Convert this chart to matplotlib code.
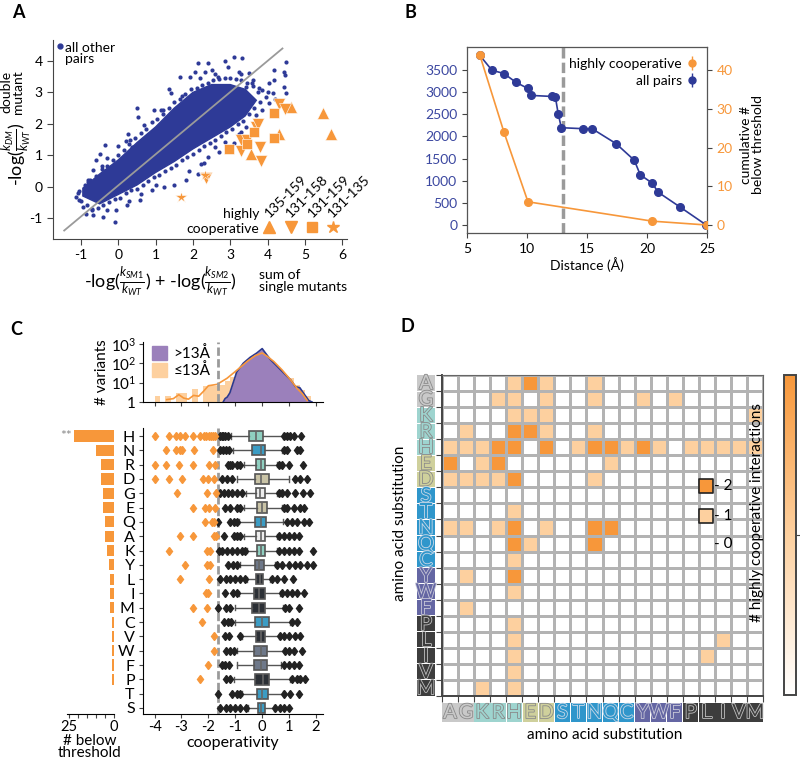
import numpy as np
import matplotlib
matplotlib.use('Agg')
import matplotlib.pyplot as plt
import matplotlib.transforms as mtransforms
import matplotlib.patheffects as pe
from matplotlib.colors import LinearSegmentedColormap
from matplotlib.patches import Rectangle, Patch
from matplotlib.lines import Line2D

plt.rcParams['font.family'] = ['Lato', 'DejaVu Sans']
plt.rcParams['mathtext.fontset'] = 'custom'
plt.rcParams['mathtext.it'] = 'Lato:italic'
plt.rcParams['mathtext.rm'] = 'Lato'
plt.rcParams['axes.unicode_minus'] = False
plt.rcParams['font.size'] = 10

BLUE = '#2e3a97'
ORANGE = '#f7973a'
LIGHT = '#fdd09f'
GRAY = '#9a9a9a'

# ---------------- data: panel A ----------------
# dense core of the "all other pairs" cloud (outline)
core_x = [-0.95, -0.5, 0.0, 0.5, 1.0, 1.5, 2.0, 2.5, 3.0, 3.4, 3.7, 3.4, 3.0, 2.5, 2.0, 1.5, 1.0, 0.5, 0.0, -0.5, -0.95]
core_y = [-0.3, -0.55, -0.25, 0.05, 0.45, 0.8, 1.2, 1.55, 1.9, 2.25, 2.75, 3.1, 3.25, 3.25, 3.0, 2.5, 1.9, 1.4, 0.85, 0.4, -0.05]
# points along the fuzzy rim of the cloud
rim_x = [-1.0, -0.85, -0.7, -0.55, -0.4, -0.25, -0.1, 0.05, 0.2, 0.35, 0.5, 0.65, 0.8, 0.95, 1.1, 1.25, 1.4,
         1.55, 1.7, 1.85, 2.0, 2.15, 2.3, 2.45, 2.6, 2.75, 2.9, 3.05, 3.2, 3.35, 3.5, 3.65, 3.8,
         3.75, 3.6, 3.45, 3.3, 3.15, 3.0, 2.85, 2.7, 2.55, 2.4, 2.25, 2.1, 1.95, 1.8, 1.65, 1.5, 1.35, 1.2,
         1.05, 0.9, 0.75, 0.6, 0.45, 0.3, 0.15, 0.0, -0.15, -0.3, -0.45, -0.6, -0.75, -0.9, -1.05]
rim_y = [-0.45, -0.6, -0.7, -0.68, -0.6, -0.5, -0.4, -0.35, -0.22, -0.12, -0.08, 0.05, 0.18, 0.3, 0.38, 0.5, 0.6,
         0.7, 0.85, 0.95, 1.05, 1.15, 1.3, 1.4, 1.5, 1.62, 1.75, 1.85, 2.0, 2.1, 2.3, 2.5, 2.7,
         3.0, 3.2, 3.3, 3.4, 3.42, 3.45, 3.45, 3.42, 3.4, 3.3, 3.25, 3.15, 3.1, 2.95, 2.8, 2.7, 2.5, 2.3,
         2.15, 2.05, 1.85, 1.7, 1.55, 1.35, 1.15, 1.0, 0.85, 0.65, 0.55, 0.35, 0.2, 0.05, -0.15]
# scattered points further out
edge_x = [2.14, 2.41, 2.86, 3.09, 3.32, 2.95, 2.5, 1.91, 1.66, 1.36, 1.41, 1.14, 0.95, 0.5, 0.52, 0.27, 0.32, 0.36,
          0.0, -0.36, -0.5, -0.59, -0.43, -0.68, -0.82, -1.09, -1.14, -1.05, -0.95, -0.86, -0.68, -0.41, -0.09, -0.05,
          0.23, 0.59, 0.91, 1.23, 1.5, 1.82, 2.14, 2.23, 2.41, 2.59, 2.95, 2.86, 3.23, 3.41, 3.68, 3.86, 3.95, 3.86,
          4.05, 4.18, 4.18, 4.45, 4.48, 4.5, 4.45, 4.5, 4.14, 4.05, 3.77, 3.59, 3.5, 3.23, 3.41, 3.05, 2.68, 2.32, 2.05,
          1.9, 2.3, 2.7, 3.1, 3.3, 1.0, 0.6, 0.3, -0.3, -0.7, -0.8, -0.3, 0.2, 0.7, 1.2, 1.7, 2.2, 2.6, 3.3, 3.6, 4.0, 4.2]
edge_y = [3.93, 3.95, 4.01, 4.12, 4.09, 3.82, 3.71, 3.5, 3.48, 3.1, 2.97, 2.44, 2.44, 2.49, 2.22, 1.69, 1.48, 1.27,
          1.3, 1.32, 1.05, 0.84, 0.65, 0.52, 0.15, -0.22, -0.33, -0.44, -0.65, -0.86, -0.91, -0.97, -1.13, -0.76,
          -0.6, -0.44, -0.12, -0.01, 0.04, 0.2, 0.41, 0.73, 0.95, 1.27, 1.27, 1.43, 1.69, 1.9, 2.28, 2.44, 2.86, 3.07,
          3.29, 3.39, 3.71, 3.66, 3.55, 3.98, 3.18, 2.97, 2.97, 2.65, 3.13, 3.29, 3.61, 3.66, 3.18, 3.18, 3.5, 3.66, 3.66,
          0.5, 0.75, 1.1, 1.4, 1.75, 0.05, -0.25, -0.45, -0.75, -0.75, 0.2, 0.9, 1.45, 1.95, 2.45, 2.9, 3.45, 3.6, 3.6, 3.4, 3.0, 2.8]
diag_x = [-1.45, 4.4]
diag_y = [-1.4, 4.4]
# highly cooperative pairs
p135_159_x = [4.62, 5.50, 5.70, 4.32, 3.57]
p135_159_y = [2.55, 2.36, 1.69, 1.69, 1.05]
p131_158_x = [4.32, 4.47, 3.70, 3.75, 3.30, 3.45, 3.30, 3.80, 3.82, 2.35]
p131_158_y = [2.63, 2.47, 1.90, 2.00, 1.50, 1.50, 1.14, 1.27, 0.82, 0.26]
p131_159_x = [4.18, 4.18, 3.64, 3.45, 2.97]
p131_159_y = [2.33, 1.56, 1.75, 1.35, 1.21]
p131_135_x = [2.32, 1.68]
p131_135_y = [0.36, -0.33]
pair_labels = ['135-159', '131-158', '131-159', '131-135']

# ---------------- data: panel B ----------------
dist_all = [6.06, 7.08, 8.08, 9.1, 10.08, 10.36, 12.1, 12.36, 12.6, 12.86, 14.64, 15.42, 17.42, 18.94, 19.44, 20.44, 20.92, 22.72, 24.94]
n_all = [3830, 3493, 3418, 3216, 3081, 2924, 2901, 2894, 2511, 2196, 2174, 2174, 1837, 1462, 1132, 945, 742, 412, 0]
dist_coop = [6.06, 8.08, 10.08, 20.44, 25.0]
n_coop = [44, 24, 6, 1, 0]
dist_cut = 13

# ---------------- data: panel C ----------------
aa_rows = ['H', 'N', 'R', 'D', 'G', 'E', 'Q', 'A', 'K', 'Y', 'L', 'I', 'M', 'C', 'V', 'W', 'F', 'P', 'T', 'S']
n_below = [22, 10, 7, 7, 6, 6, 5, 5, 4, 3, 2, 2, 2, 1, 1, 1, 1, 1, 0, 0]
q1 = [-0.49, -0.38, -0.22, -0.28, -0.22, -0.20, -0.28, -0.22, -0.20, -0.28, -0.23, -0.32, -0.38, -0.28, -0.23, -0.29, -0.29, -0.26, -0.20, -0.17]
med = [-0.23, -0.05, -0.05, -0.03, -0.07, -0.01, -0.05, -0.05, -0.05, -0.13, -0.10, -0.11, -0.13, -0.01, -0.06, -0.05, -0.05, 0.02, -0.01, -0.05]
q3 = [0.03, 0.11, 0.11, 0.24, 0.09, 0.17, 0.15, 0.11, 0.11, 0.08, 0.02, 0.09, 0.11, 0.24, 0.11, 0.17, 0.17, 0.27, 0.20, 0.09]
whislo = [-1.16, -1.09, -0.69, -0.94, -0.59, -0.69, -0.88, -0.69, -0.57, -0.81, -0.57, -0.88, -1.00, -1.00, -0.75, -0.94, -0.94, -1.04, -0.75, -0.54]
whishi = [0.77, 0.73, 0.55, 0.98, 0.55, 0.73, 0.79, 0.55, 0.55, 0.49, 0.30, 0.67, 0.79, 1.04, 0.61, 0.80, 0.70, 1.04, 0.77, 0.43]
box_group = ['teal', 'blue', 'teal', 'khaki', 'white', 'khaki', 'blue', 'white', 'teal', 'slate',
             'dark', 'dark', 'dark', 'blue', 'dark', 'slate', 'slate', 'dark', 'blue', 'blue']
fliers_low = [
    [-1.56, -1.5, -1.46, -1.37, -1.28], [-1.56, -1.46, -1.36, -1.25], [-1.28, -1.2, -1.12, -0.94, -0.81],
    [-1.50, -1.29, -1.13], [-1.56, -1.43, -1.28, -1.12, -0.94, -0.75], [-1.37, -1.18, -0.94, -0.81],
    [-1.66, -1.21, -1.06, -0.94], [-1.43, -1.06, -0.94, -0.81], [-1.62, -1.50, -1.31, -1.12, -0.94, -0.75, -0.63],
    [-1.28, -1.09, -0.94], [-1.56, -1.33, -1.19, -1.0, -0.81, -0.63], [-1.37, -1.09, -0.94],
    [-1.66, -1.33, -1.19], [-1.43, -1.28, -1.16], [-1.37, -1.25, -0.81], [-1.33, -1.19, -1.04],
    [-1.50, -1.37, -1.25], [-1.33, -1.19], [-1.66, -1.12, -0.94, -0.81], [-1.56, -1.33, -1.19, -1.0, -0.81, -0.59]]
fliers_high = [
    [0.82, 0.92, 1.02, 1.19, 1.44], [0.82, 0.92, 1.29, 1.39], [0.61, 0.73, 0.98, 1.50],
    [1.23, 1.39, 1.66], [0.61, 0.73, 0.92, 1.21, 1.50, 1.79], [0.80, 0.92, 1.17, 1.42, 1.54],
    [0.92, 1.11, 1.29, 1.54, 1.73], [0.61, 0.80, 0.98, 1.17, 1.36], [0.61, 0.80, 0.98, 1.17, 1.36, 1.89],
    [0.55, 0.73, 0.98, 1.23, 1.42, 1.66, 1.89], [0.36, 0.55, 0.80, 1.14], [0.73, 0.92, 1.11, 1.29, 1.54],
    [0.86, 1.01, 1.38], [1.11, 1.29], [0.67, 0.80, 0.98, 1.23, 1.42], [0.86, 1.01, 1.17, 1.48],
    [0.80, 0.98, 1.17, 1.36], [1.11, 1.29, 1.42, 1.60], [0.82, 1.04, 1.36], [0.49, 0.65, 0.80, 0.98]]
fliers_coop = [
    [-3.97, -3.48, -3.19, -3.07, -2.88, -2.57, -2.30, -2.18, -2.08, -1.99, -1.90, -1.83, -1.76],
    [-3.56, -3.19, -3.07, -2.98, -2.52, -1.83], [-4.0, -3.56, -3.10, -2.59, -1.99, -1.74],
    [-4.0, -3.48, -2.98, -2.20, -2.03, -1.78], [-3.17, -2.05, -1.71], [-2.59, -2.12, -1.99, -1.74],
    [-2.12, -1.87, -1.80], [-3.04, -2.59, -1.78, -1.73], [-3.48, -2.05, -1.93], [-2.88, -2.05, -1.95],
    [-3.04, -1.99], [-2.09, -2.0], [-2.57, -2.05], [-2.24], [-1.78], [-1.80], [-2.02], [-2.32], [], []]
coop_cut = -1.65

# histogram of cooperativity
le13_x = [-3.9, -3.5, -3.1, -2.9, -2.5, -2.1, -1.9, -1.7, -1.5, -1.3, -1.1, -0.9, -0.7, -0.5, -0.3, -0.1,
          0.1, 0.3, 0.5, 0.7, 0.9, 1.1, 1.3, 1.5, 1.7]
le13_n = [2, 2, 3, 3, 5, 7, 7, 7, 8, 12, 20, 35, 60, 100, 180, 300, 250, 120, 60, 30, 20, 17, 8, 4, 2]
le13_kde_x = [-3.55, -3.3, -3.1, -2.92, -2.74, -2.55, -2.36, -2.18, -2.0, -1.68, -1.31, -0.93, -0.56, -0.26,
              0.0, 0.19, 0.43, 0.74, 1.06, 1.3, 1.49, 1.67]
le13_kde_y = [1.33, 1.5, 2.4, 1.6, 1.4, 2.2, 2.0, 3.6, 7, 8.2, 16.9, 46, 127, 254, 350, 233, 127, 46, 13.8, 5, 2.7, 1.2]
gt13_x = [-1.45, -1.38, -1.3, -1.2, -1.1, -0.95, -0.7, -0.45, -0.2, -0.05, 0.0, 0.12, 0.31, 0.56, 0.81, 1.06,
          1.24, 1.4, 1.55, 1.73, 1.85]
gt13_y = [1, 1.5, 1.8, 3, 8, 35, 104, 207, 350, 520, 590, 350, 156, 70, 31, 14, 6.2, 5.5, 2.7, 1.2, 1]

# ---------------- data: panel D ----------------
aa_cols = ['A', 'G', 'K', 'R', 'H', 'E', 'D', 'S', 'T', 'N', 'Q', 'C', 'Y', 'W', 'F', 'P', 'L', 'I', 'V', 'M']
aa_group = ['gray', 'gray', 'teal', 'teal', 'teal', 'khaki', 'khaki', 'blue', 'blue', 'blue', 'blue', 'blue',
            'purple', 'purple', 'purple', 'dark', 'dark', 'dark', 'dark', 'dark']
heat = [
    [0, 0, 0, 0, 1, 2, 1, 0, 0, 1, 0, 0, 0, 0, 0, 0, 0, 0, 0, 0],
    [0, 0, 0, 1, 1, 0, 1, 0, 0, 1, 0, 0, 1, 0, 1, 0, 0, 0, 0, 0],
    [0, 0, 0, 0, 1, 1, 1, 0, 0, 0, 0, 0, 0, 0, 0, 0, 0, 0, 0, 1],
    [0, 1, 0, 0, 2, 2, 1, 0, 0, 1, 0, 0, 0, 0, 0, 0, 0, 0, 0, 0],
    [1, 1, 1, 2, 2, 0, 2, 0, 1, 2, 2, 1, 2, 1, 0, 1, 1, 1, 1, 1],
    [2, 0, 1, 2, 0, 0, 0, 0, 0, 0, 1, 0, 0, 0, 0, 0, 0, 0, 0, 0],
    [1, 1, 1, 1, 2, 0, 0, 0, 0, 1, 0, 0, 0, 0, 0, 0, 0, 0, 0, 0],
    [0, 0, 0, 0, 0, 0, 0, 0, 0, 0, 0, 0, 0, 0, 0, 0, 0, 0, 0, 0],
    [0, 0, 0, 0, 1, 0, 0, 0, 0, 0, 0, 0, 0, 0, 0, 0, 0, 0, 0, 0],
    [1, 1, 0, 1, 2, 0, 1, 0, 0, 2, 2, 0, 0, 0, 0, 0, 0, 0, 0, 0],
    [0, 0, 0, 0, 2, 1, 0, 0, 0, 2, 0, 0, 0, 0, 0, 0, 0, 0, 0, 0],
    [0, 0, 0, 0, 1, 0, 0, 0, 0, 0, 0, 0, 0, 0, 0, 0, 0, 0, 0, 0],
    [0, 1, 0, 0, 2, 0, 0, 0, 0, 0, 0, 0, 0, 0, 0, 0, 0, 0, 0, 0],
    [0, 0, 0, 0, 1, 0, 0, 0, 0, 0, 0, 0, 0, 0, 0, 0, 0, 0, 0, 0],
    [0, 1, 0, 0, 0, 0, 0, 0, 0, 0, 0, 0, 0, 0, 0, 0, 0, 0, 0, 0],
    [0, 0, 0, 0, 1, 0, 0, 0, 0, 0, 0, 0, 0, 0, 0, 0, 0, 0, 0, 0],
    [0, 0, 0, 0, 1, 0, 0, 0, 0, 0, 0, 0, 0, 0, 0, 0, 0, 1, 0, 0],
    [0, 0, 0, 0, 1, 0, 0, 0, 0, 0, 0, 0, 0, 0, 0, 0, 1, 0, 0, 0],
    [0, 0, 0, 0, 1, 0, 0, 0, 0, 0, 0, 0, 0, 0, 0, 0, 0, 0, 0, 0],
    [0, 0, 1, 0, 1, 0, 0, 0, 0, 0, 0, 0, 0, 0, 0, 0, 0, 0, 0, 0],
]
legend_levels = [2, 1, 0]

box_colors = {'teal': '#8fcfc0', 'blue': '#3b9cc4', 'khaki': '#c9c3a6', 'white': '#eeeeee',
              'slate': '#6e7889', 'dark': '#2c3036'}
label_colors = {'gray': '#c9c9c9', 'teal': '#9ed4cf', 'khaki': '#cfd09c', 'blue': '#2f96cb',
                'purple': '#6466a3', 'dark': '#3d3d3d'}
label_strokes = {'gray': '#8a8a8a', 'teal': '#8a8a8a', 'khaki': '#8a8a8a', 'blue': '#c8d8e8',
                 'purple': '#c8c8d8', 'dark': '#c0c0c0'}

W, H = 800, 759
fig = plt.figure(figsize=(8, 7.59), dpi=100)


def fbox(x0, y0, x1, y1):
    return [x0 / W, 1 - y1 / H, (x1 - x0) / W, (y1 - y0) / H]


# ================= panel A =================
axA = fig.add_axes(fbox(53, 40, 347, 239))
axA.fill(core_x, core_y, color=BLUE, ec=BLUE, lw=1, zorder=2)
axA.scatter(rim_x, rim_y, s=9, color=BLUE, lw=0, zorder=2)
axA.scatter(edge_x, edge_y, s=9, color=BLUE, lw=0, zorder=2)
axA.plot(diag_x, diag_y, color=GRAY, lw=1.3, zorder=3)
mk = dict(color=ORANGE, ls='none', mec='white', mew=0.4, zorder=4)
axA.plot(p135_159_x, p135_159_y, '^', ms=8, **mk)
axA.plot(p131_158_x, p131_158_y, 'v', ms=8, **mk)
axA.plot(p131_159_x, p131_159_y, 's', ms=7, **mk)
axA.plot(p131_135_x, p131_135_y, '*', ms=9, **mk)
# legend-like annotations
axA.plot([-1.55], [4.48], 'o', color=BLUE, ms=3.5)
axA.text(-1.42, 4.62, 'all other\npairs', va='top', ha='left', fontsize=10, linespacing=0.95)
axA.text(3.78, -1.1, 'highly\ncooperative', ha='right', va='center', fontsize=10, linespacing=1.3)
leg_x = [4.05, 4.62, 5.2, 5.75]
for xx, m, ms in zip(leg_x, ['^', 'v', 's', '*'], [8, 8, 7, 9]):
    axA.plot([xx], [-1.29], m, ms=ms, color=ORANGE, clip_on=False)
for xx, lab in zip(leg_x, pair_labels):
    axA.text(xx + 0.05, -1.05, lab, rotation=45, ha='left', va='bottom', rotation_mode='anchor', fontsize=10)
axA.set_xlim(-1.75, 6.13)
axA.set_ylim(-1.67, 4.67)
axA.set_xticks(range(-1, 7))
axA.set_yticks(range(-1, 5))
for s in ['top', 'right']:
    axA.spines[s].set_visible(False)
for s in ['left', 'bottom']:
    axA.spines[s].set_color('#444')
axA.tick_params(labelsize=10, length=4, color='#444')
fig.text(12 / W, 1 - 92 / H, 'double\nmutant', rotation=90, ha='center', va='center', fontsize=10, linespacing=1.0)
fig.text(17 / W, 1 - 154 / H, r'-log($\frac{k_{DM}}{k_{WT}}$)', rotation=90, ha='center', va='center', fontsize=13)
fig.text(160 / W, 1 - 282 / H, r'-log($\frac{k_{SM1}}{k_{WT}}$) + -log($\frac{k_{SM2}}{k_{WT}}$)',
         ha='center', va='center', fontsize=13)
fig.text(259 / W, 1 - 281 / H, 'sum of\nsingle mutants', ha='left', va='center', fontsize=10, linespacing=1.0)
fig.text(12 / W, 1 - 12 / H, 'A', fontsize=13, fontweight='bold', va='center')

# ================= panel B =================
axB = fig.add_axes(fbox(467, 47, 707, 233))
axB2 = axB.twinx()
axB.plot(dist_all, n_all, '-o', color=BLUE, ms=5.5, lw=1.2, zorder=3)
axB2.plot(dist_coop, n_coop, '-o', color=ORANGE, ms=5.5, lw=1.2, zorder=3)
axB.axvline(dist_cut, color=GRAY, ls=(0, (3, 1.2)), lw=2.5, zorder=1)
axB.set_xlim(5, 25)
axB.set_ylim(-180, 4017)
axB2.set_ylim(-2.06, 46.0)
axB.set_xticks([5, 10, 15, 20, 25])
axB.set_yticks(range(0, 3501, 500))
axB2.set_yticks(range(0, 41, 10))
axB.tick_params(axis='y', labelcolor='#3b47a0', labelsize=10, color='#444')
axB.tick_params(axis='x', labelsize=10, color='#444')
axB2.tick_params(axis='y', labelcolor=ORANGE, labelsize=10, color='#444')
for s in axB2.spines.values():
    s.set_color('#555')
axB.set_xlabel('Distance (Å)', fontsize=10, labelpad=2)
fig.text(752 / W, 1 - 145 / H, 'cumulative #\nbelow threshold', rotation=90, ha='center', va='center',
         fontsize=10, linespacing=1.0)
h_coop = (Line2D([], [], marker='|', ms=10, color=ORANGE, ls='none'),
          Line2D([], [], marker='o', ms=5, color=ORANGE, ls='none'))
h_all = (Line2D([], [], marker='|', ms=10, color=BLUE, ls='none'),
         Line2D([], [], marker='o', ms=5, color=BLUE, ls='none'))
axB2.legend([h_coop, h_all], ['highly cooperative', 'all pairs'], loc='upper right', frameon=False,
            markerfirst=False, handlelength=0.6, handletextpad=0.4, fontsize=10, borderaxespad=0.4,
            labelspacing=0.35)
fig.text(405 / W, 1 - 12 / H, 'B', fontsize=13, fontweight='bold', va='center')

# ================= panel C =================
xl = (-4.43, 2.26)
axH = fig.add_axes(fbox(143, 342, 323, 402))
axH.set_yscale('log')
le13_n_arr = np.array(le13_n, dtype=float)
axH.bar(le13_x, le13_n_arr - 1, bottom=1, width=0.2, color=LIGHT, lw=0, zorder=1)
axH.fill_between(gt13_x, 1, gt13_y, color='#9b80bb', lw=0, zorder=2)
axH.plot(gt13_x, gt13_y, color='#2b3990', lw=1.2, zorder=3)
axH.plot(le13_kde_x, le13_kde_y, color=ORANGE, lw=1.2, zorder=4)
axH.axvline(coop_cut, color=GRAY, ls=(0, (3, 1.2)), lw=2, zorder=5)
axH.set_xlim(*xl)
axH.set_ylim(1, 1300)
axH.set_xticks(range(-4, 3))
axH.set_xticklabels([])
axH.set_yticks([1, 10, 100, 1000])
axH.set_yticklabels(['1', '$10^1$', '$10^2$', '$10^3$'])
axH.yaxis.set_minor_locator(matplotlib.ticker.NullLocator())
axH.tick_params(labelsize=11, length=3, color='#444', pad=2)
for s in ['top', 'right']:
    axH.spines[s].set_visible(False)
axH.set_ylabel('# variants', fontsize=11, labelpad=1)
axH.legend([Patch(color='#9b80bb'), Patch(color=LIGHT)], ['>13Å', '≤13Å'], loc='upper left',
           bbox_to_anchor=(0.0, 1.08), frameon=False, fontsize=11, handlelength=1.0, handleheight=1.0,
           handletextpad=0.4, labelspacing=0.1, borderaxespad=0.2)

axBox = fig.add_axes(fbox(143, 428, 323, 714))
pos = np.arange(len(aa_rows))
stats = [dict(med=med[i], q1=q1[i], q3=q3[i], whislo=whislo[i], whishi=whishi[i], fliers=[])
         for i in range(len(aa_rows))]
bp = axBox.bxp(stats, positions=pos, orientation='horizontal', widths=0.72, patch_artist=True, showfliers=False,
               boxprops=dict(edgecolor='#555', lw=1.2), medianprops=dict(color='#666', lw=1.2),
               whiskerprops=dict(color='#555', lw=1.0), capprops=dict(color='#555', lw=1.0))
for patch, g in zip(bp['boxes'], box_group):
    patch.set_facecolor(box_colors[g])
for i in range(len(aa_rows)):
    blk = fliers_low[i] + fliers_high[i]
    axBox.plot(blk, [i] * len(blk), 'd', color='#222', ms=4.5, ls='none')
    axBox.plot(fliers_coop[i], [i] * len(fliers_coop[i]), 'd', color=ORANGE, ms=4.5, ls='none')
axBox.axvline(coop_cut, color=GRAY, ls=(0, (3, 1.2)), lw=2, zorder=0)
axBox.set_xlim(*xl)
axBox.set_ylim(19.42, -0.56)
axBox.set_yticks(pos)
axBox.set_yticklabels(aa_rows, fontsize=11.5)
axBox.set_xticks(range(-4, 3))
axBox.tick_params(axis='x', labelsize=10.5, length=3, color='#444', pad=1.5)
axBox.tick_params(axis='y', length=3, color='#444', pad=3)
for s in ['top', 'right']:
    axBox.spines[s].set_visible(False)
fig.text(233 / W, 1 - 743 / H, 'cooperativity', ha='center', va='center', fontsize=11.5)

axBar = fig.add_axes(fbox(67, 428, 114, 714))
axBar.barh(pos, n_below, height=0.78, color=ORANGE, lw=0)
axBar.set_xlim(26, 0)
axBar.set_ylim(19.42, -0.56)
axBar.set_yticks([])
axBar.set_xticks(range(0, 26, 5))
axBar.set_xticklabels(['0', '', '', '', '', '25'])
axBar.tick_params(axis='x', labelsize=10.5, length=3, color='#444', pad=1.5)
for s in ['top', 'right', 'left']:
    axBar.spines[s].set_visible(False)
axBar.text(23.3, 0, '**', ha='right', va='center', color='#888', fontsize=10)
fig.text(90 / W, 1 - 747 / H, '# below\nthreshold', ha='center', va='center', fontsize=11, linespacing=0.9)
fig.text(10 / W, 1 - 330 / H, 'C', fontsize=13, fontweight='bold', va='center')

# ================= panel D =================
cmap = LinearSegmentedColormap.from_list('coop', ['#ffffff', LIGHT, ORANGE])
axD = fig.add_axes(fbox(442, 375, 763, 696))
n = len(aa_cols)
mesh = axD.pcolormesh(np.arange(n + 1) - 0.5, np.arange(n + 1) - 0.5, np.array(heat), cmap=cmap,
                      vmin=0, vmax=2, edgecolors='#b3b3b3', linewidth=1.0)
axD.set_xlim(-0.5, n - 0.5)
axD.set_ylim(n - 0.5, -0.5)
axD.set_xticks(np.arange(n + 1) - 0.5)
axD.set_yticks(np.arange(n + 1) - 0.5)
axD.set_xticklabels([])
axD.set_yticklabels([])
axD.tick_params(length=4, color='#444')
for s in ['left', 'bottom']:
    axD.spines[s].set_color('#444')
    axD.spines[s].set_linewidth(1.4)
for s in ['top', 'right']:
    axD.spines[s].set_color('#666')
trY = mtransforms.blended_transform_factory(axD.transAxes, axD.transData)
trX = mtransforms.blended_transform_factory(axD.transData, axD.transAxes)
for i, (aa, g) in enumerate(zip(aa_cols, aa_group)):
    c = label_colors[g]
    stroke = [pe.Stroke(linewidth=1.2, foreground=label_strokes[g]), pe.Normal()]
    axD.add_patch(Rectangle((-0.078, i - 0.47), 0.056, 0.94, transform=trY, color=c, clip_on=False, lw=0))
    axD.text(-0.05, i + 0.04, aa, transform=trY, ha='center', va='center', fontsize=14.5, color=c,
             path_effects=stroke, clip_on=False)
    axD.add_patch(Rectangle((i - 0.48, -0.081), 0.96, 0.058, transform=trX, color=c, clip_on=False, lw=0))
    axD.text(i, -0.052, aa, transform=trX, ha='center', va='center', fontsize=14.5, color=c,
             path_effects=stroke, clip_on=False)
# size legend
axD.scatter([15.95, 15.95], [6.42, 8.3], marker='s', s=100, c=[ORANGE, LIGHT], edgecolors='#222',
            linewidths=1.2, zorder=5)
for yy, lv in zip([6.42, 8.3, 10.05], legend_levels):
    axD.text(16.45, yy, '- %d' % lv, ha='left', va='center', fontsize=11, zorder=6)
fig.text(400 / W, 1 - 523 / H, 'amino acid substitution', rotation=90, ha='center', va='center', fontsize=11)
fig.text(605 / W, 1 - 735 / H, 'amino acid substitution', ha='center', va='center', fontsize=11)
fig.text(757 / W, 1 - 512 / H, '# highly cooperative interactions', rotation=90, ha='center', va='center',
         fontsize=11)

axCb = fig.add_axes(fbox(784, 375, 796, 695))
cb = fig.colorbar(mesh, cax=axCb, ticks=[1])
cb.ax.set_yticklabels([''])
cb.ax.tick_params(length=3, color='#444')
cb.outline.set_edgecolor('#444')
cb.outline.set_linewidth(1.4)
fig.text(400 / W, 1 - 327 / H, 'D', fontsize=13, fontweight='bold', va='center')

fig.savefig('out.png', dpi=100)
